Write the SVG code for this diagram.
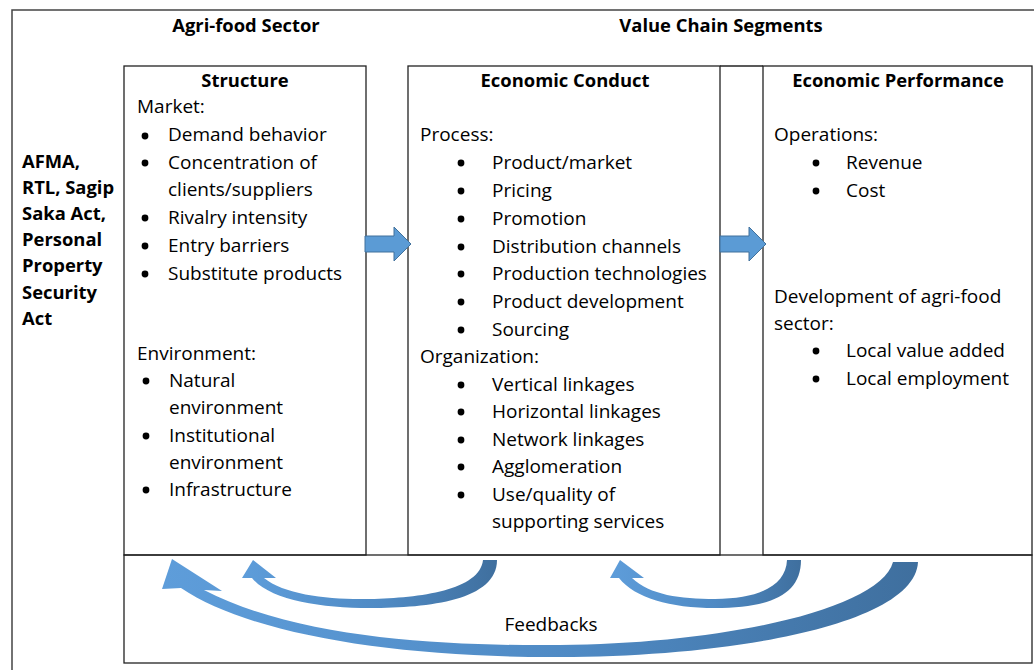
<svg xmlns="http://www.w3.org/2000/svg" width="1034" height="670" viewBox="0 0 1034 670">
<style>
text{font-family:"Open Sans","Liberation Sans",sans-serif;font-size:19px;fill:#000}
.b{font-weight:700;font-size:18.4px}
.c{text-anchor:middle}
.box{fill:none;stroke:#222;stroke-width:1.3}
.frame{fill:none;stroke:#444;stroke-width:1.5}
.dot{fill:#000}
.blk{fill:#5B9BD5;stroke:#41719C;stroke-width:1}
</style>
<defs>
<linearGradient id="fb" x1="0" y1="0" x2="1" y2="0">
<stop offset="0" stop-color="#5E9DDA"/>
<stop offset="0.55" stop-color="#4F8AC4"/>
<stop offset="1" stop-color="#3F6F9E"/>
</linearGradient>
</defs>
<rect width="1034" height="670" fill="#fff"/>
<path class="frame" d="M12 672 V10 H1036"/>
<text class="b c" x="246" y="32">Agri-food Sector</text>
<text class="b c" x="721" y="32">Value Chain Segments</text>
<g id="law">
<text class="b" x="22" y="168">AFMA,</text>
<text class="b" x="22" y="194">RTL, Sagip</text>
<text class="b" x="22" y="220">Saka Act,</text>
<text class="b" x="22" y="246">Personal</text>
<text class="b" x="22" y="272">Property</text>
<text class="b" x="22" y="299">Security</text>
<text class="b" x="22" y="325">Act</text>
</g>
<g id="structure">
<rect class="box" x="124" y="66" width="242" height="489"/>
<text class="b c" x="245" y="87">Structure</text>
<text x="137" y="113">Market:</text>
<circle class="dot" cx="145" cy="136" r="3.4"/><text x="168" y="141">Demand behavior</text>
<circle class="dot" cx="145" cy="163" r="3.4"/><text x="168" y="169">Concentration of</text>
<text x="168" y="196">clients/suppliers</text>
<circle class="dot" cx="145" cy="218" r="3.4"/><text x="168" y="224">Rivalry intensity</text>
<circle class="dot" cx="145" cy="246" r="3.4"/><text x="168" y="252">Entry barriers</text>
<circle class="dot" cx="145" cy="274" r="3.4"/><text x="168" y="280">Substitute products</text>
<text x="137" y="360">Environment:</text>
<circle class="dot" cx="146" cy="381" r="3.4"/><text x="169" y="387">Natural</text>
<text x="169" y="414">environment</text>
<circle class="dot" cx="146" cy="436" r="3.4"/><text x="169" y="442">Institutional</text>
<text x="169" y="469">environment</text>
<circle class="dot" cx="146" cy="490" r="3.4"/><text x="169" y="496">Infrastructure</text>
</g>
<g id="conduct">
<rect class="box" x="408" y="66" width="312" height="489"/>
<text class="b c" x="565" y="87">Economic Conduct</text>
<text x="420" y="141">Process:</text>
<circle class="dot" cx="461" cy="163" r="3.4"/><text x="492" y="169">Product/market</text>
<circle class="dot" cx="461" cy="191" r="3.4"/><text x="492" y="197">Pricing</text>
<circle class="dot" cx="461" cy="219" r="3.4"/><text x="492" y="225">Promotion</text>
<circle class="dot" cx="461" cy="247" r="3.4"/><text x="492" y="253">Distribution channels</text>
<circle class="dot" cx="461" cy="274" r="3.4"/><text x="492" y="280">Production technologies</text>
<circle class="dot" cx="461" cy="302" r="3.4"/><text x="492" y="308">Product development</text>
<circle class="dot" cx="461" cy="330" r="3.4"/><text x="492" y="336">Sourcing</text>
<text x="420" y="363">Organization:</text>
<circle class="dot" cx="461" cy="385" r="3.4"/><text x="492" y="391">Vertical linkages</text>
<circle class="dot" cx="461" cy="412" r="3.4"/><text x="492" y="418">Horizontal linkages</text>
<circle class="dot" cx="461" cy="440" r="3.4"/><text x="492" y="446">Network linkages</text>
<circle class="dot" cx="461" cy="467" r="3.4"/><text x="492" y="473">Agglomeration</text>
<circle class="dot" cx="461" cy="495" r="3.4"/><text x="492" y="501">Use/quality of</text>
<text x="492" y="528">supporting services</text>
</g>
<g id="gap2">
<path class="box" d="M720 66 H763"/>
</g>
<g id="performance">
<rect class="box" x="763" y="66" width="269" height="489"/>
<text class="b c" x="898" y="87">Economic Performance</text>
<text x="774" y="141">Operations:</text>
<circle class="dot" cx="816" cy="163" r="3.4"/><text x="846" y="169">Revenue</text>
<circle class="dot" cx="816" cy="191" r="3.4"/><text x="846" y="197">Cost</text>
<text x="774" y="303">Development of agri-food</text>
<text x="774" y="330">sector:</text>
<circle class="dot" cx="816" cy="351" r="3.4"/><text x="846" y="357">Local value added</text>
<circle class="dot" cx="816" cy="379" r="3.4"/><text x="846" y="385">Local employment</text>
</g>
<g id="feedbacks">
<rect class="box" x="124" y="555" width="908" height="108"/>
<text class="c" x="551" y="631">Feedbacks</text>
</g>
<g id="connectors">
<path class="blk" d="M365 236 H394 V227 L411 244 L394 261 V252 H365 Z"/>
<path class="blk" d="M720 236 H749 V227 L766 244 L749 261 V252 H720 Z"/>
<path fill="url(#fb)" d="M172 559 L222 591 L204 590 C300 640 450 646 560 645 C720 644 880 610 893 562 L918 562 C915 625 730 657 560 657 C400 658 250 635 181 588 L162 589 Z"/>
<path fill="url(#fb)" d="M253 560 L276 578 L264 578 C285 595 330 600 370 599 C420 598 480 590 483 560 L497 560 C497 600 430 608 370 608 C320 608 270 600 252 578 L242 578 Z"/>
<path fill="url(#fb)" d="M620 560 L644 578 L632 578 C650 595 680 599 715 599 C760 599 786 585 787 560 L801 560 C801 595 770 608 715 608 C670 608 635 598 619 578 L610 578 Z"/>
</g>
</svg>
